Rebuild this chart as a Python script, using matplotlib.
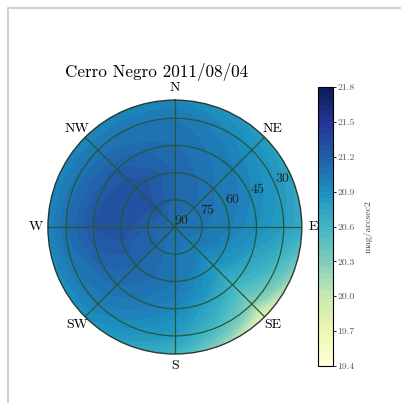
import numpy as np
import matplotlib
matplotlib.use('Agg')
import matplotlib.pyplot as plt
from matplotlib.patches import Rectangle
from matplotlib.path import Path

plt.rcParams['font.family'] = ['cmr10', 'DejaVu Serif']
plt.rcParams['axes.formatter.use_mathtext'] = True

# sky brightness survey, mag/arcsec2
azimuths = [0, 45, 90, 135, 180, 225, 270, 315, 360]   # deg, clockwise from N
altitudes = [20, 30, 45, 60, 75, 90]                  # deg

#              alt: 20     30     45     60     75     90
mag_N  =  [20.95, 21.05, 21.10, 21.15, 21.15, 21.10]
mag_NE =  [20.80, 20.90, 21.00, 21.05, 21.10, 21.10]
mag_E  =  [20.70, 20.80, 20.90, 21.00, 21.05, 21.10]
mag_SE =  [19.75, 20.25, 20.60, 20.85, 21.00, 21.10]
mag_S  =  [20.60, 20.80, 20.95, 21.05, 21.05, 21.10]
mag_SW =  [20.90, 21.00, 21.10, 21.15, 21.15, 21.10]
mag_W  =  [20.95, 21.10, 21.25, 21.30, 21.20, 21.10]
mag_NW =  [20.95, 21.05, 21.20, 21.30, 21.25, 21.10]

dir_labels = ['N', 'NE', 'E', 'SE', 'S', 'SW', 'W', 'NW']
ring_values = [30, 45, 60, 75, 90]
cbar_ticks = [19.4, 19.7, 20.0, 20.3, 20.6, 20.9, 21.2, 21.5, 21.8]

title = 'Cerro Negro 2011/08/04'


def densify(path, steps=30):
    # split into closed rings and resample each one, so the polar
    # transform draws curved edges instead of chords
    parts = []
    verts, codes = path.vertices, path.codes
    if codes is None:
        return path.interpolated(steps)
    starts = list(np.where(codes == Path.MOVETO)[0]) + [len(codes)]
    for a, b in zip(starts[:-1], starts[1:]):
        v = verts[a:b].copy()
        c = codes[a:b]
        closed = c[-1] == Path.CLOSEPOLY
        if closed:
            v[-1] = v[0]
        ring = Path(v).interpolated(steps)
        parts.append(Path(ring.vertices, closed=closed))
    return Path.make_compound_path(*parts)


def main():
    Z = np.array([mag_N, mag_NE, mag_E, mag_SE, mag_S, mag_SW, mag_W, mag_NW, mag_N])
    theta, alt = np.meshgrid(np.radians(azimuths), altitudes, indexing='ij')

    fig = plt.figure(figsize=(4.02, 4.03), dpi=100)
    fig.set_facecolor('white')

    ax = fig.add_axes([0.119, 0.1216, 0.632, 0.630], projection='polar')
    ax.set_theta_zero_location('N')
    ax.set_theta_direction(-1)

    levels = np.arange(19.4, 21.8001, 0.05)
    cf = ax.contourf(theta, alt, Z, levels=levels, cmap='YlGnBu', vmin=19.4, vmax=21.8)
    cf.set_paths([densify(p) for p in cf.get_paths()])

    ax.set_rlim(90, 20)
    ax.set_rgrids(ring_values, labels=[str(v) for v in ring_values], angle=67.5,
                  fontsize=10, color='#222222')
    ax.set_thetagrids(np.arange(0, 360, 45), labels=dir_labels, fontsize=10)
    ax.tick_params(axis='x', pad=-2)
    ax.grid(True, color='#25583a', linewidth=0.9)
    ax.spines['polar'].set_color('#2a3a30')
    ax.spines['polar'].set_linewidth(1.0)

    cax = fig.add_axes([0.791, 0.0918, 0.037, 0.692])
    cbar = fig.colorbar(cf, cax=cax, ticks=cbar_ticks)
    cbar.ax.set_yticklabels(['%.1f' % t for t in cbar_ticks])
    cbar.ax.tick_params(labelsize=7, labelcolor='#555555', length=2, width=0.6, pad=1)
    cbar.set_label('mag/arcsec2', fontsize=7, color='#444444', labelpad=7)
    cbar.outline.set_linewidth(0.8)

    fig.text(65 / 402, 1 - 72 / 403, title, fontsize=12.3, ha='left', va='center')

    # screenshot frame
    fig.patches.append(Rectangle((8 / 402, -0.1), 2.0, (403 - 8) / 403 + 0.1,
                                 transform=fig.transFigure, fill=False,
                                 edgecolor='#c8c8c8', linewidth=1.2))

    fig.savefig('out.png', dpi=100)


if __name__ == '__main__':
    main()
